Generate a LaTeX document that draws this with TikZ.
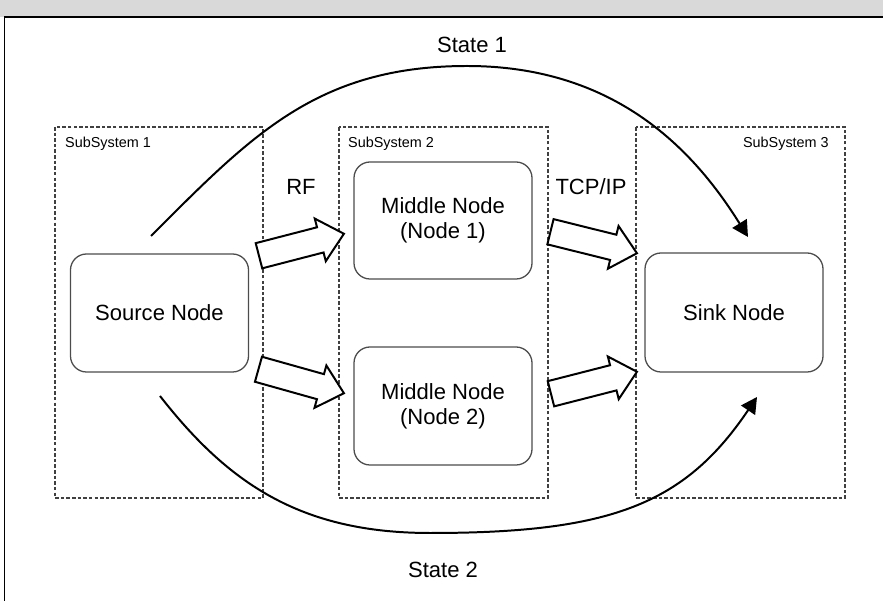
\documentclass[tikz,border=0pt]{standalone}
\usepackage{fontspec}
\setmainfont{Liberation Sans}
\usepackage{xcolor}
\usepackage{tikz}
\usetikzlibrary{arrows.meta,calc,shapes.arrows}

\newcommand{\bigfont}{\fontsize{18.8}{21.3}\selectfont}
\newcommand{\smallfont}{\fontsize{12.3}{14}\selectfont}

\tikzset{
  blockarr/.style={single arrow, draw=black, line width=1.7pt, fill=white,
    inner xsep=0pt, inner ysep=0.36cm, single arrow head extend=0.27cm,
    single arrow tip angle=84},
}
\newcommand{\blockarrow}[3]{%
  \path let \p1=($(#3)-(#2)$), \n1={atan2(\y1,\x1)}, \n2={veclen(\x1,\y1)} in
    node[blockarr, minimum height=\n2, rotate=\n1, anchor=tail] (#1) at (#2) {};}

\begin{document}
\begin{tikzpicture}[x=0.03cm, y=-0.03cm,
    unit/.style={draw=black!70, line width=1.1pt, rounded corners=0.48cm,
      minimum width=5.34cm, minimum height=3.54cm, align=center, font=\bigfont},
    subsys/.style={draw=black!75, line width=0.9pt, dash pattern=on 3pt off 1.8pt},
    sslabel/.style={font=\smallfont, inner sep=0pt},
    lbl/.style={font=\bigfont, inner sep=0pt},
    state/.style={line width=1.7pt, -{Triangle[length=0.48cm, width=0.5cm]}}]
    \useasboundingbox (0,0) rectangle (883,601);
    \fill[gray!30] (0,0) rectangle (883,17);
    \draw[line width=1.2pt] (4.5,601) -- (4.5,17) -- (883,17);

    % subsystems
    \draw[subsys] (55,127) rectangle (263,498);
    \draw[subsys] (339,127) rectangle (548,498);
    \draw[subsys] (636,127) rectangle (845,498);
    \node[sslabel, anchor=west] (ss1) at (65,144) {SubSystem 1};
    \node[sslabel, anchor=west] (ss2) at (348,144) {SubSystem 2};
    \node[sslabel, anchor=east] (ss3) at (829,144) {SubSystem 3};

    % nodes
    \node[unit] (source) at (159.5,313) {Source Node};
    \node[unit, minimum height=3.51cm] (mid1) at (443,220.5) {Middle Node\\(Node 1)};
    \node[unit] (mid2) at (443,406) {Middle Node\\(Node 2)};
    \node[unit, minimum height=3.57cm] (sink) at (734,312.5) {Sink Node};

    \node[lbl] (rf) at (301,187) {RF};
    \node[lbl] (tcp) at (591,187) {TCP/IP};
    \node[lbl] (st1) at (472,45) {State 1};
    \node[lbl] (st2) at (443,570) {State 2};

    % block arrows
    \coordinate (a1s) at (258,256);   \coordinate (a1e) at (343,234);
    \coordinate (a2s) at (257.5,369); \coordinate (a2e) at (343,393);
    \coordinate (a3s) at (549.5,231.5); \coordinate (a3e) at (636,253);
    \coordinate (a4s) at (550,394);   \coordinate (a4e) at (636,372);
    \blockarrow{rf1}{a1s}{a1e}
    \blockarrow{rf2}{a2s}{a2e}
    \blockarrow{tcp1}{a3s}{a3e}
    \blockarrow{tcp2}{a4s}{a4e}

    % states
    \coordinate (s1s) at (151,236);
    \coordinate (s1e) at (748,237);
    \coordinate (s2s) at (160,396);
    \coordinate (s2e) at (757,397);
    \draw[state] (s1s) .. controls (251,136) and (317,66) .. (467,66)
                       .. controls (617,66) and (695,152) .. (s1e);
    \draw[state] (s2s) .. controls (227.7,482.7) and (300,533) .. (430,533)
                       .. controls (610,533) and (684.3,504.8) .. (s2e);
\end{tikzpicture}
\end{document}
